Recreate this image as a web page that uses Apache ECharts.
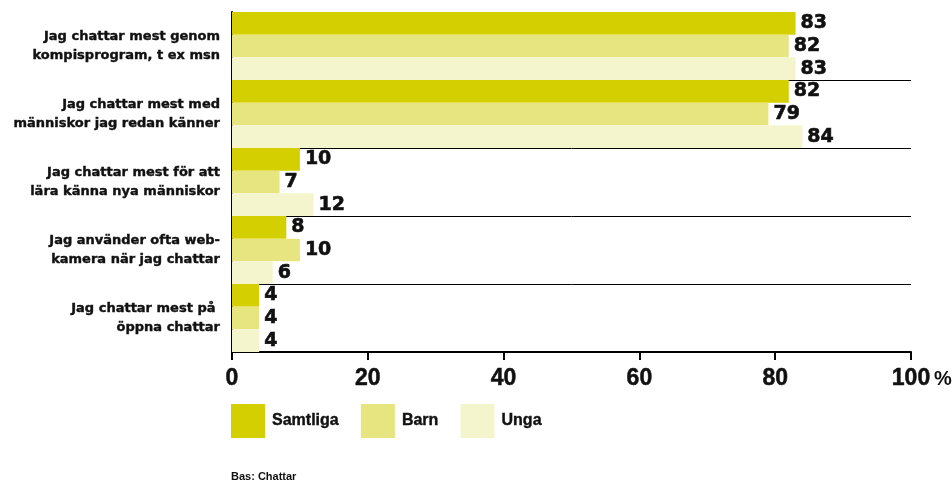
<!DOCTYPE html>
<html><head><meta charset="utf-8">
<script src="https://cdn.jsdelivr.net/npm/echarts@6/dist/echarts.min.js"></script>
<style>html,body{margin:0;padding:0;background:#fff}#c{width:952px;height:483px}</style>
</head><body><div id="c"></div>
<script>
const categories = [
  "Jag chattar mest genom\nkompisprogram, t ex msn",
  "Jag chattar mest med\nmänniskor jag redan känner",
  "Jag chattar mest för att\nlära känna nya människor",
  "Jag använder ofta web-\nkamera när jag chattar",
  "Jag chattar mest på \nöppna chattar"
];
const samtliga = [83, 82, 10, 8, 4];
const barn = [82, 79, 7, 10, 4];
const unga = [83, 84, 12, 6, 4];
const xTicks = [0, 20, 40, 60, 80, 100];
const seriesNames = ["Samtliga", "Barn", "Unga"];
const colors = ["#d4cf00", "#e6e580", "#f5f5cd"];

const chart = echarts.init(document.getElementById('c'), null, {renderer: 'canvas'});
const lbl = {show: true, position: 'right', distance: 5, color: '#111', fontFamily: 'DejaVu Sans', fontWeight: 'bold', fontSize: 19,
  textBorderColor: '#111', textBorderWidth: 0.6};
const mk = (name, data, i) => ({
  name, type: 'bar', data, barGap: '0%', barCategoryGap: '0%',
  itemStyle: {color: colors[i]}, label: lbl, silent: true
});
chart.setOption({
  animation: false,
  grid: {left: 232, right: 41, top: 12, bottom: 131, containLabel: false},
  legend: {
    left: 231, top: 404, padding: 0, itemWidth: 34, itemHeight: 34, itemGap: 22,
    icon: 'rect', data: seriesNames, selectedMode: false,
    textStyle: {fontFamily: 'Liberation Sans', fontWeight: 'bold', fontSize: 16, color: '#111', padding: [0, 0, 0, 2],
      textBorderColor: '#111', textBorderWidth: 0.4}
  },
  xAxis: {
    type: 'value', min: 0, max: 100, interval: 20,
    axisLine: {show: true, lineStyle: {color: '#000', width: 2}},
    axisTick: {show: true, length: 8, lineStyle: {color: '#000', width: 2}},
    splitLine: {show: false},
    axisLabel: {margin: 15, color: '#111', fontFamily: 'Liberation Sans', fontWeight: 'bold', fontSize: 23,
      textBorderColor: '#111', textBorderWidth: 0.5,
      formatter: v => xTicks.includes(v) ? String(v) : ''}
  },
  yAxis: {
    type: 'category', data: categories, inverse: true,
    axisLine: {show: true, lineStyle: {color: '#000', width: 2}},
    axisTick: {show: false},
    splitLine: {show: true, lineStyle: {color: ['rgba(0,0,0,0)', '#000', '#000', '#000', '#000', 'rgba(0,0,0,0)'], width: 1}},
    axisLabel: {margin: 12, color: '#111', fontFamily: 'DejaVu Sans', fontWeight: 'bold', fontSize: 13, lineHeight: 19, align: 'right',
      textBorderColor: '#111', textBorderWidth: 0.4}
  },
  graphic: [
    {type: 'text', left: 934, top: 369, style: {text: '%', fontFamily: 'Liberation Sans', fontWeight: 'bold', fontSize: 20, fill: '#111'}},
    {type: 'text', left: 231, top: 471, style: {text: 'Bas: Chattar', fontFamily: 'Liberation Sans', fontWeight: 'bold', fontSize: 11, fill: '#111'}}
  ],
  series: [mk(seriesNames[0], samtliga, 0), mk(seriesNames[1], barn, 1), mk(seriesNames[2], unga, 2)]
});
</script></body></html>
